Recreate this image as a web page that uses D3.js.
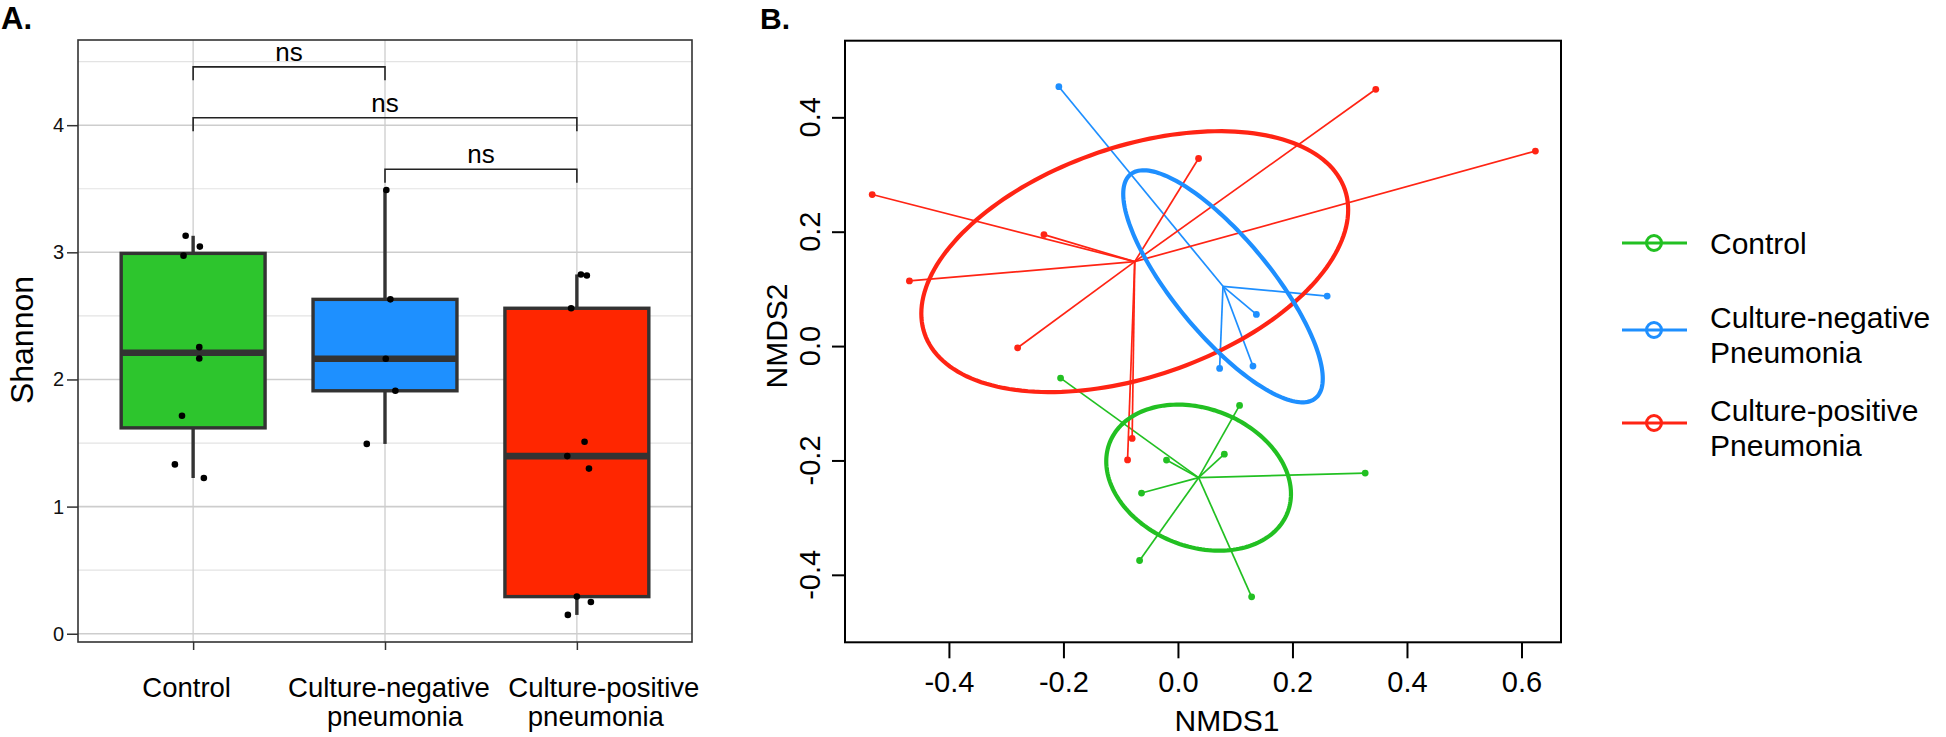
<!DOCTYPE html>
<html>
<head>
<meta charset="utf-8">
<script src="https://cdn.jsdelivr.net/npm/d3@7"></script>
<style>
  body { margin: 0; background: #fff; }
  svg { font-family: "Liberation Sans", Arial, sans-serif; }
</style>
</head>
<body>
<div id="chart"></div>
<script>
// ---- data ----
const groupLabelLines = [["Control"], ["Culture-negative", "pneumonia"], ["Culture-positive", "pneumonia"]];
const legendLabelLines = [["Control"], ["Culture-negative", "Pneumonia"], ["Culture-positive", "Pneumonia"]];

// panel A: Shannon diversity per sample (and the jitter offset of each dot, in category units)
const shannonControl = [3.13, 3.045, 2.974, 2.254, 2.165, 1.715, 1.332, 1.225];
const jitterControl  = [-0.039, 0.035, -0.05, 0.032, 0.032, -0.058, -0.095, 0.056];
const shannonNeg = [3.49, 2.63, 2.163, 1.911, 1.493];
const jitterNeg  = [0.007, 0.028, 0.004, 0.054, -0.095];
const shannonPos = [2.826, 2.818, 2.56, 1.51, 1.397, 1.299, 0.292, 0.25, 0.148];
const jitterPos  = [0.021, 0.052, -0.03, 0.04, -0.05, 0.063, 0, 0.073, -0.047];
const shannonTicks = [0, 1, 2, 3, 4];

// significance brackets
const nsPairs = [[0, 1], [0, 2], [1, 2]];
const nsHeights = [4.459, 4.058, 3.653];
const nsLabels = ["ns", "ns", "ns"];

// panel B: NMDS scores
const nmdsControlX = [-0.205, 0.1076, 0.081, -0.020, -0.0636, 0.327, -0.067, 0.1287];
const nmdsControlY = [-0.056, -0.1037, -0.189, -0.1994, -0.257, -0.222, -0.375, -0.4385];
const nmdsNegX = [-0.208, 0.2606, 0.137, 0.131, 0.0728];
const nmdsNegY = [0.4536, 0.0875, 0.0554, -0.035, -0.039];
const nmdsPosX = [-0.534, -0.234, -0.469, 0.036, -0.28, 0.3455, 0.6243, -0.080, -0.088];
const nmdsPosY = [0.265, 0.195, 0.114, 0.328, -0.003, 0.449, 0.341, -0.1615, -0.199];
const nmds1Ticks = [-0.4, -0.2, 0.0, 0.2, 0.4, 0.6];
const nmds2Ticks = [-0.4, -0.2, 0.0, 0.2, 0.4];

// colours
const boxFill = ["#2dc52d", "#1e90ff", "#ff2600"];
const ordColor = ["#22c022", "#1e8fff", "#ff2414"];

const W = 1946, H = 737;
const svg = d3.select("#chart").append("svg")
    .attr("width", W)
    .attr("height", H)
    .style("background", "#fff");

// ================= Panel A =================
const shannon = [shannonControl, shannonNeg, shannonPos];
const jitter = [jitterControl, jitterNeg, jitterPos];

const xA = d3.scaleLinear().domain([0.4, 3.6]).range([78, 692]);
const yA = d3.scaleLinear().domain([-0.065, 4.67]).range([642, 40]);

function boxStats(v) {
    const s = v.slice().sort(d3.ascending);
    const q1 = d3.quantile(s, 0.25), med = d3.quantile(s, 0.5), q3 = d3.quantile(s, 0.75);
    const iqr = q3 - q1;
    const lo = d3.min(s.filter(d => d >= q1 - 1.5 * iqr));
    const hi = d3.max(s.filter(d => d <= q3 + 1.5 * iqr));
    return { q1, med, q3, lo, hi };
}

const gA = svg.append("g");

// grid
gA.append("g").selectAll("line")
    .data(d3.range(0.5, 4.6, 1))
    .join("line")
    .attr("x1", xA.range()[0]).attr("x2", xA.range()[1])
    .attr("y1", d => yA(d)).attr("y2", d => yA(d))
    .attr("stroke", "#e3e3e3").attr("stroke-width", 1.2);
gA.append("g").selectAll("line")
    .data(shannonTicks)
    .join("line")
    .attr("x1", xA.range()[0]).attr("x2", xA.range()[1])
    .attr("y1", d => yA(d)).attr("y2", d => yA(d))
    .attr("stroke", "#cdcdcd").attr("stroke-width", 1.6);
gA.append("g").selectAll("line")
    .data([1, 2, 3])
    .join("line")
    .attr("x1", d => xA(d)).attr("x2", d => xA(d))
    .attr("y1", yA.range()[0]).attr("y2", yA.range()[1])
    .attr("stroke", "#cdcdcd").attr("stroke-width", 1.3);

// boxes
const stats = shannon.map(boxStats);
const boxG = gA.append("g").selectAll("g")
    .data(stats)
    .join("g");
boxG.append("line")
    .attr("x1", (d, i) => xA(i + 1)).attr("x2", (d, i) => xA(i + 1))
    .attr("y1", d => yA(d.hi)).attr("y2", d => yA(d.q3))
    .attr("stroke", "#333").attr("stroke-width", 3.4);
boxG.append("line")
    .attr("x1", (d, i) => xA(i + 1)).attr("x2", (d, i) => xA(i + 1))
    .attr("y1", d => yA(d.q1)).attr("y2", d => yA(d.lo))
    .attr("stroke", "#333").attr("stroke-width", 3.4);
boxG.append("rect")
    .attr("x", (d, i) => xA(i + 1 - 0.375))
    .attr("width", xA(1.375) - xA(0.625))
    .attr("y", d => yA(d.q3))
    .attr("height", d => yA(d.q1) - yA(d.q3))
    .attr("fill", (d, i) => boxFill[i])
    .attr("stroke", "#333").attr("stroke-width", 3.4);
boxG.append("line")
    .attr("x1", (d, i) => xA(i + 1 - 0.375)).attr("x2", (d, i) => xA(i + 1 + 0.375))
    .attr("y1", d => yA(d.med)).attr("y2", d => yA(d.med))
    .attr("stroke", "#333").attr("stroke-width", 6.6);

// jittered points
const dotsA = shannon.flatMap((vals, i) => vals.map((v, j) => ({ g: i, v, jit: jitter[i][j] })));
gA.append("g").selectAll("circle")
    .data(dotsA)
    .join("circle")
    .attr("cx", d => xA(d.g + 1 + d.jit))
    .attr("cy", d => yA(d.v))
    .attr("r", 3.3)
    .attr("fill", "#000");

// significance brackets
const tip = 0.105;
const brG = gA.append("g").selectAll("g")
    .data(nsPairs)
    .join("g");
brG.append("path")
    .attr("d", (p, k) => `M${xA(p[0] + 1)},${yA(nsHeights[k] - tip)}V${yA(nsHeights[k])}H${xA(p[1] + 1)}V${yA(nsHeights[k] - tip)}`)
    .attr("fill", "none").attr("stroke", "#222").attr("stroke-width", 1.6);
brG.append("text")
    .attr("x", p => (xA(p[0] + 1) + xA(p[1] + 1)) / 2)
    .attr("y", (p, k) => yA(nsHeights[k]) - 6)
    .attr("text-anchor", "middle")
    .style("font-size", "26px")
    .text((p, k) => nsLabels[k]);

// panel border
gA.append("rect")
    .attr("x", xA.range()[0]).attr("y", yA.range()[1])
    .attr("width", xA.range()[1] - xA.range()[0])
    .attr("height", yA.range()[0] - yA.range()[1])
    .attr("fill", "none").attr("stroke", "#333").attr("stroke-width", 1.6);

// axes
const axA = gA.append("g")
    .attr("transform", `translate(${xA.range()[0]},0)`)
    .call(d3.axisLeft(yA).tickValues(shannonTicks).tickSize(11).tickPadding(3).tickFormat(d3.format("d")));
axA.select(".domain").remove();
axA.selectAll("line").attr("stroke", "#333").attr("stroke-width", 1.5);
axA.selectAll("text").style("font-size", "20px").attr("fill", "#111");

const axAx = gA.append("g")
    .attr("transform", `translate(0,${yA.range()[0]})`)
    .call(d3.axisBottom(xA).tickValues([1, 2, 3]).tickSize(8).tickFormat(""));
axAx.select(".domain").remove();
axAx.selectAll("line").attr("stroke", "#333").attr("stroke-width", 1.5);

const labelShift = [[-6.5], [4, 10], [27, 19]];
groupLabelLines.forEach((lines, i) => {
    lines.forEach((t, k) => {
        gA.append("text")
            .attr("x", xA(i + 1) + labelShift[i][k])
            .attr("y", 696.5 + k * 29.5)
            .attr("text-anchor", "middle")
            .style("font-size", "27.5px")
            .attr("fill", "#000")
            .text(t);
    });
});

gA.append("text")
    .attr("transform", "translate(22,340) rotate(-90)")
    .attr("text-anchor", "middle")
    .attr("dominant-baseline", "central")
    .style("font-size", "32px")
    .text("Shannon");

svg.append("text")
    .attr("x", 1).attr("y", 29)
    .style("font-size", "31px").style("font-weight", "bold")
    .text("A.");

// ================= Panel B =================
const nmds = [
    { x: nmdsControlX, y: nmdsControlY },
    { x: nmdsNegX, y: nmdsNegY },
    { x: nmdsPosX, y: nmdsPosY }
];
const xB = d3.scaleLinear().domain([-0.5815, 0.669]).range([845, 1561]);
const yB = d3.scaleLinear().domain([-0.518, 0.534]).range([642.3, 40.7]);

const gB = svg.append("g");

// group centroid + sd ellipse from the sample covariance
const groupsB = nmds.map((g, i) => {
    const cx = d3.mean(g.x), cy = d3.mean(g.y);
    const n = g.x.length;
    const sxx = d3.sum(g.x, v => (v - cx) ** 2) / (n - 1);
    const syy = d3.sum(g.y, v => (v - cy) ** 2) / (n - 1);
    const sxy = d3.sum(g.x.map((v, j) => (v - cx) * (g.y[j] - cy))) / (n - 1);
    const a = Math.sqrt(sxx), b = sxy / a, c = Math.sqrt(syy - b * b);
    const ell = d3.range(0, 2 * Math.PI, Math.PI / 90).map(t => [cx + a * Math.cos(t), cy + b * Math.cos(t) + c * Math.sin(t)]);
    const pts = g.x.map((v, j) => [v, g.y[j]]);
    return { i, cx, cy, pts, ell };
});

// spiders
groupsB.forEach(g => {
    gB.append("g").selectAll("line")
        .data(g.pts)
        .join("line")
        .attr("x1", xB(g.cx)).attr("y1", yB(g.cy))
        .attr("x2", d => xB(d[0])).attr("y2", d => yB(d[1]))
        .attr("stroke", ordColor[g.i]).attr("stroke-width", 1.7);
    gB.append("g").selectAll("circle")
        .data(g.pts)
        .join("circle")
        .attr("cx", d => xB(d[0])).attr("cy", d => yB(d[1]))
        .attr("r", 3.4)
        .attr("fill", ordColor[g.i]);
});

// ellipses
const ellLine = d3.line().x(d => xB(d[0])).y(d => yB(d[1])).curve(d3.curveLinearClosed);
[0, 2, 1].forEach(i => {
    gB.append("path")
        .attr("d", ellLine(groupsB[i].ell))
        .attr("fill", "none")
        .attr("stroke", ordColor[i])
        .attr("stroke-width", 4.2);
});

// box
gB.append("rect")
    .attr("x", xB.range()[0]).attr("y", yB.range()[1])
    .attr("width", xB.range()[1] - xB.range()[0])
    .attr("height", yB.range()[0] - yB.range()[1])
    .attr("fill", "none").attr("stroke", "#000").attr("stroke-width", 2);

// axes
const axBx = gB.append("g")
    .attr("transform", `translate(0,${yB.range()[0]})`)
    .call(d3.axisBottom(xB).tickValues(nmds1Ticks).tickSize(16).tickPadding(13).tickFormat(d => d.toFixed(1)));
axBx.select(".domain").remove();
axBx.selectAll("line").attr("stroke", "#000").attr("stroke-width", 2);
axBx.selectAll("text").style("font-size", "29px").attr("fill", "#000");

const axBy = gB.append("g")
    .attr("transform", `translate(${xB.range()[0]},0)`)
    .call(d3.axisLeft(yB).tickValues(nmds2Ticks).tickSize(13).tickFormat(""));
axBy.select(".domain").remove();
axBy.selectAll("line").attr("stroke", "#000").attr("stroke-width", 2);

gB.append("g").selectAll("text")
    .data(nmds2Ticks)
    .join("text")
    .attr("transform", d => `translate(810,${yB(d)}) rotate(-90)`)
    .attr("text-anchor", "middle")
    .attr("dominant-baseline", "central")
    .style("font-size", "29px")
    .text(d => d.toFixed(1));

gB.append("text")
    .attr("x", 1227).attr("y", 731)
    .attr("text-anchor", "middle")
    .style("font-size", "30px")
    .text("NMDS1");

gB.append("text")
    .attr("transform", "translate(776,336) rotate(-90)")
    .attr("text-anchor", "middle")
    .attr("dominant-baseline", "central")
    .style("font-size", "30px")
    .text("NMDS2");

svg.append("text")
    .attr("x", 760).attr("y", 29)
    .style("font-size", "30px").style("font-weight", "bold")
    .text("B.");

// legend
const legendY = [243, 330, 423];
const leg = svg.append("g").selectAll("g")
    .data(legendLabelLines)
    .join("g")
    .attr("transform", (d, i) => `translate(0,${legendY[i]})`);
leg.append("line")
    .attr("x1", 1622).attr("x2", 1687)
    .attr("stroke", (d, i) => ordColor[i]).attr("stroke-width", 3);
leg.append("circle")
    .attr("cx", 1654).attr("r", 7.5)
    .attr("fill", "none")
    .attr("stroke", (d, i) => ordColor[i]).attr("stroke-width", 3);
leg.each(function (lines) {
    d3.select(this).selectAll("text")
        .data(lines)
        .join("text")
        .attr("x", 1710)
        .attr("y", (t, k) => (lines.length === 1 ? 11 : -2) + k * 35)
        .style("font-size", "30px")
        .text(t => t);
});
</script>
</body>
</html>
